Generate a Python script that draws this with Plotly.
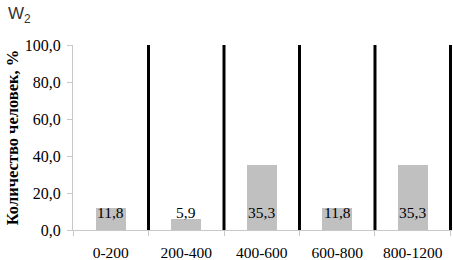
import plotly.graph_objects as go

categories = ["0-200", "200-400", "400-600", "600-800", "800-1200"]
values = [11.8, 5.9, 35.3, 11.8, 35.3]
labels = ["11,8", "5,9", "35,3", "11,8", "35,3"]
yticks = [0, 20, 40, 60, 80, 100]

SERIF = "Liberation Serif, Times New Roman, serif"

fig = go.Figure()
fig.add_trace(go.Bar(x=categories, y=values, width=0.40,
                     marker=dict(color="#c0c0c0", line=dict(width=0)), hoverinfo="skip"))

for c, t in zip(categories, labels):
    fig.add_annotation(x=c, y=9.5, text=t, showarrow=False, xref="x", yref="y",
                       font=dict(family=SERIF, size=15.5, color="#000"))

for i in range(len(categories)):
    fig.add_shape(type="line", xref="x", yref="y", x0=i + 0.5, x1=i + 0.5, y0=0, y1=100,
                  line=dict(color="#000", width=3))

fig.update_layout(
    width=453, height=260, margin=dict(l=73, r=1, t=45, b=30, autoexpand=False),
    plot_bgcolor="white", paper_bgcolor="white", showlegend=False,
    separators=",.", bargap=0,
    font=dict(family=SERIF, size=15.5, color="#000"),
)
fig.update_xaxes(type="category", range=[-0.5, 4.52], tickson="boundaries",
                 showgrid=False, showline=True, linecolor="#c8c8c8",
                 linewidth=1, ticks="outside", ticklen=5, tickcolor="#c8c8c8",
                 zeroline=False, ticklabelstandoff=8, automargin=False,
                 tickfont=dict(family=SERIF, size=15.5))
fig.update_yaxes(range=[0, 100], tickvals=yticks, tickformat=".1f", showgrid=False,
                 showline=True, linecolor="#c8c8c8", linewidth=1, ticks="outside",
                 ticklen=5, tickcolor="#c8c8c8", zeroline=False, automargin=False,
                 ticklabelstandoff=3,
                 tickfont=dict(family=SERIF, size=16),
                 title=dict(text="<b>Количество человек, %</b>", standoff=2,
                            font=dict(family=SERIF, size=16.5)))
fig.add_annotation(text="W<sub>2</sub>", xref="paper", yref="paper", x=-67/379, y=1 + 45/185,
                   xanchor="left", yanchor="top", showarrow=False, yshift=-2,
                   font=dict(family="Liberation Sans, Arial, sans-serif", size=17, color="#333"))

fig.write_html("out.html", config={"displayModeBar": False},
               post_script="document.body.style.margin='0';document.body.style.overflow='hidden';")
